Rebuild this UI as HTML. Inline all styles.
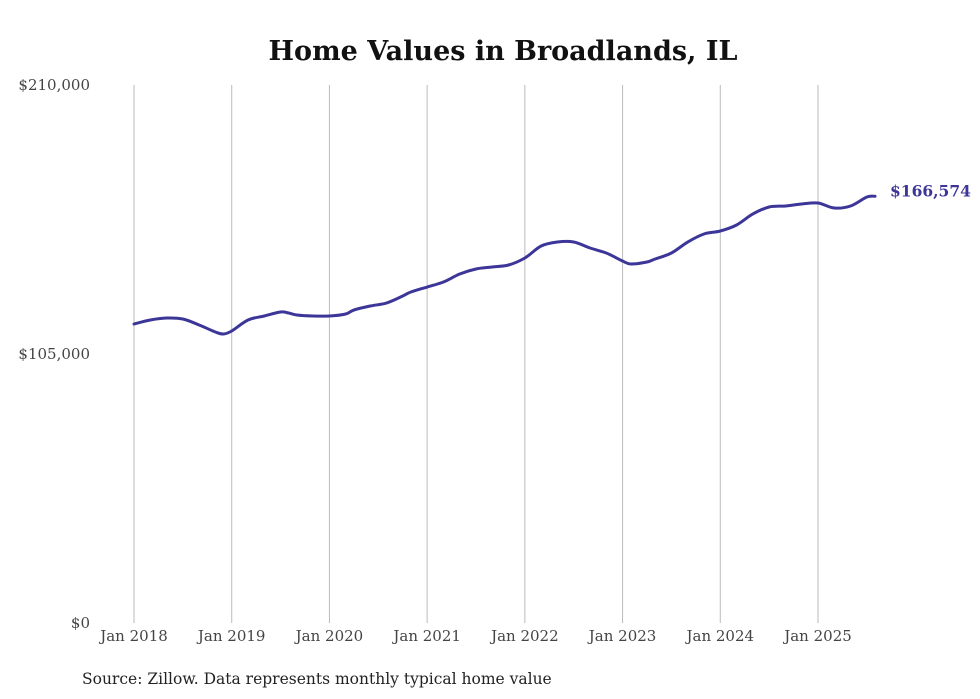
<!DOCTYPE html>
<html><head><meta charset="utf-8"><style>
html,body{margin:0;padding:0;background:#fff;}
svg{display:block;font-family:"DejaVu Serif","Liberation Serif",serif;}
</style></head><body>
<svg id="chart" width="980" height="699" viewBox="0 0 980 699">
<text x="503" y="60" text-anchor="middle" font-size="27" font-weight="bold" fill="#111">Home Values in Broadlands, IL</text>
<g id="grid"></g>
<g id="yaxis"></g>
<g id="xaxis"></g>
<g id="series"></g>
<text x="82" y="684" font-size="15.5" fill="#222">Source: Zillow. Data represents monthly typical home value</text>
</svg>
<script>
const months = [0,2,4,6,8,10,11,12,14,16,18,19,20,22,24,26,27,29,31,33,34,36,38,40,42,44,46,48,50,52,54,56,58,60,61,63,64,66,68,70,72,74,76,78,80,82,84,86,88,90,91];
const values = [116700,118270,119050,118660,116320,113590,112800,113980,118270,119830,121390,121000,120220,119830,119830,120610,122170,123730,124900,127640,129200,131150,133100,136220,138180,138960,139740,142470,147150,148710,148710,146370,144420,141300,140130,140910,142080,144420,148710,151840,153010,155350,159650,162380,162770,163550,163940,161990,162770,166280,166574];
const yTicks = [0,105000,210000];
const yTickLabels = ["$0","$105,000","$210,000"];
const xYears = [2018,2019,2020,2021,2022,2023,2024,2025];
const lastLabel = "$166,574";

const NS="http://www.w3.org/2000/svg";
const x0=134,xPerMonth=(818-134)/84,yBottom=623,yTop=85,yMax=210000;
const X=m=>x0+m*xPerMonth;
const Y=v=>yBottom-(v/yMax)*(yBottom-yTop);
function mk(tag,attrs,parent){const e=document.createElementNS(NS,tag);for(const k in attrs)e.setAttribute(k,attrs[k]);parent.appendChild(e);return e;}
const grid=document.getElementById('grid'),ya=document.getElementById('yaxis'),xa=document.getElementById('xaxis'),ser=document.getElementById('series');
xYears.forEach((yr,i)=>{
  const x=X((yr-2018)*12);
  const l=mk('line',{x1:x,x2:x,y1:yTop,y2:yBottom,stroke:'#bbb','stroke-width':1},grid);
  
  
  const t=mk('text',{x:x,y:641,'text-anchor':'middle','font-size':15,fill:'#444'},xa);
  t.textContent='Jan '+yr;
  
  
});
yTicks.forEach((v,i)=>{
  const t=mk('text',{x:90,y:Y(v)+5,'text-anchor':'end','font-size':15,fill:'#444'},ya);
  t.textContent=yTickLabels[i];
  
  
});
const pts=months.map((m,i)=>[X(m),Y(values[i])]);
let d='M'+pts[0][0]+','+pts[0][1];
for(let i=0;i<pts.length-1;i++){
  const p0=pts[i-1]||pts[i],p1=pts[i],p2=pts[i+1],p3=pts[i+2]||p2;
  const c1x=p1[0]+(p2[0]-p0[0])/6,c1y=p1[1]+(p2[1]-p0[1])/6;
  const c2x=p2[0]-(p3[0]-p1[0])/6,c2y=p2[1]-(p3[1]-p1[1])/6;
  d+=' C'+c1x+','+c1y+' '+c2x+','+c2y+' '+p2[0]+','+p2[1];
}
const path=mk('path',{d:d,fill:'none',stroke:'#3d3699','stroke-width':3,'stroke-linejoin':'round','stroke-linecap':'round'},ser);


const last=pts[pts.length-1];
const lt=mk('text',{x:last[0]+15,y:last[1]+0,'font-size':15.5,'font-weight':'bold',fill:'#3d3699'},ser);
lt.textContent=lastLabel;


</script>
</body></html>
